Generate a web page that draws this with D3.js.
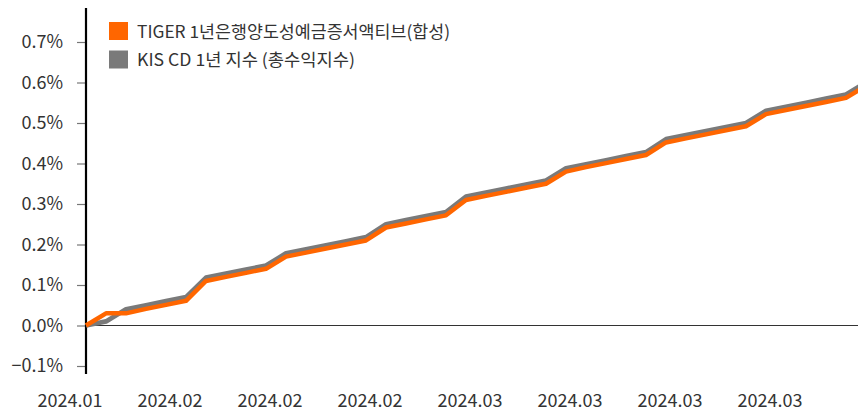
<!DOCTYPE html>
<html><head><meta charset="utf-8">
<script src="https://cdn.jsdelivr.net/npm/d3@7"></script>
<style>
html,body{margin:0;padding:0;background:#fff;}
svg{display:block;}
text{font-family:"Noto Sans CJK KR","Noto Sans",sans-serif;fill:#333;}
</style></head>
<body>
<svg id="c" width="858" height="413"></svg>
<script>
const dates = ["2024.01.31","2024.02.02","2024.02.05","2024.02.06","2024.02.07","2024.02.08","2024.02.13","2024.02.14","2024.02.15","2024.02.16",
"2024.02.19","2024.02.20","2024.02.21","2024.02.22","2024.02.23","2024.02.26","2024.02.27","2024.02.28","2024.02.29","2024.03.04",
"2024.03.05","2024.03.06","2024.03.07","2024.03.08","2024.03.11","2024.03.12","2024.03.13","2024.03.14","2024.03.15","2024.03.18",
"2024.03.19","2024.03.20","2024.03.21","2024.03.22","2024.03.25","2024.03.26","2024.03.27","2024.03.28","2024.03.29","2024.04.01"];
const seriesNames = ["TIGER 1년은행양도성예금증서액티브(합성)","KIS CD 1년 지수 (총수익지수)"];
const tiger = [0,0.030,0.030,0.041,0.051,0.061,0.110,0.120,0.130,0.140,
0.170,0.180,0.190,0.200,0.210,0.242,0.252,0.262,0.272,0.310,
0.320,0.330,0.340,0.350,0.380,0.391,0.401,0.411,0.421,0.452,
0.462,0.472,0.482,0.492,0.522,0.532,0.542,0.552,0.562,0.592];
const kis = [0,0.010,0.040,0.050,0.060,0.070,0.118,0.128,0.138,0.148,
0.178,0.188,0.198,0.208,0.218,0.250,0.260,0.270,0.280,0.318,
0.328,0.338,0.348,0.358,0.388,0.398,0.408,0.418,0.428,0.460,
0.470,0.480,0.490,0.500,0.530,0.540,0.550,0.560,0.570,0.600];
const yTicks = [-0.1,0,0.1,0.2,0.3,0.4,0.5,0.6,0.7];
const labelEvery = 5;
const colors = ["#ff6600","#7a7a7a"];

const svg = d3.select("#c");
const x = d3.scaleLinear().domain([0, dates.length-1]).range([86, 866]);
const y = d3.scaleLinear().domain([-0.1, 0.7]).range([366, 42]);

// y axis
const yAxis = d3.axisLeft(y).tickValues(yTicks).tickSize(9).tickPadding(14)
  .tickFormat(d => (d < 0 ? "\u2212" : "") + Math.abs(d).toFixed(1) + "%");
const gy = svg.append("g").attr("transform","translate(86,0)").call(yAxis);
gy.select(".domain").remove();
gy.selectAll(".tick line").attr("stroke","#777").attr("stroke-width",1.2);
gy.selectAll(".tick text").style("font-size","18px").attr("fill","#333");
svg.append("line").attr("x1",86).attr("x2",86).attr("y1",8).attr("y2",374)
  .attr("stroke","#000").attr("stroke-width",2.2);

// zero line
svg.append("line").attr("x1",86).attr("x2",858).attr("y1",y(0)).attr("y2",y(0))
  .attr("stroke","#333").attr("stroke-width",1.2);

// x labels
const idx = d3.range(0, dates.length, labelEvery);
svg.append("g").selectAll("text").data(idx).join("text")
  .attr("x", i => x(i) - 16).attr("y", 407).attr("text-anchor","middle")
  .style("font-size","18px").text(i => dates[i].slice(0,7));

// lines
const line = d3.line().x((d,i)=>x(i)).y(d=>y(d));
svg.append("path").datum(kis).attr("d",line).attr("fill","none")
  .attr("stroke",colors[1]).attr("stroke-width",4.8).attr("stroke-linejoin","round");
svg.append("path").datum(tiger).attr("d",line).attr("fill","none")
  .attr("stroke",colors[0]).attr("stroke-width",4.5).attr("stroke-linejoin","round");

// legend
const legendWidths = [313, 218];
const lg = svg.append("g");
seriesNames.forEach((n,k)=>{
  lg.append("rect").attr("x",109).attr("y",22+k*28.5).attr("width",19).attr("height",18).attr("fill",colors[k]);
  lg.append("text").attr("x",137).attr("y",37.5+k*28.5).style("font-size","17px")
    .attr("textLength",legendWidths[k]).attr("lengthAdjust","spacingAndGlyphs").text(n);
});
</script>
</body></html>
